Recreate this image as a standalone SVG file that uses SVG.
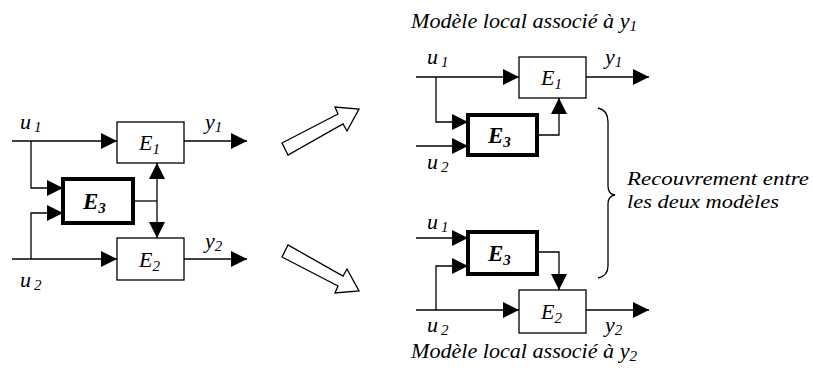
<svg xmlns="http://www.w3.org/2000/svg" width="813" height="372" viewBox="0 0 813 372">
<style>
.t{font-family:'Liberation Serif','Times New Roman',serif;font-style:italic;font-size:22px;fill:#000}
.b{font-weight:bold;font-size:23px}
.s{font-size:15px}
.r{font-size:19px}
.box{fill:#fff;stroke:#000;stroke-width:1.3}
.bx3{fill:#fff;stroke:#000;stroke-width:4}
.ln{fill:none;stroke:#000;stroke-width:1.3}
.arr{fill:none;stroke:#000;stroke-width:1.3;marker-end:url(#ah)}
.hol{fill:#fff;stroke:#000;stroke-width:1.3;stroke-linejoin:miter}
</style>
<defs>
<marker id="ah" viewBox="0 0 16 16" refX="16" refY="8" markerWidth="16" markerHeight="16" markerUnits="userSpaceOnUse" orient="auto">
<path d="M0,0 L16,8 L0,16 z" fill="#000"/>
</marker>
</defs>
<rect width="813" height="372" fill="#fff"/>

<g id="connectors">
<path class="arr" d="M12,141 L117,141"/>
<path class="arr" d="M184,141 L247,141"/>
<path class="arr" d="M31,141 L31,188 L63,188"/>
<path class="arr" d="M12,259 L117,259"/>
<path class="arr" d="M184,259 L247,259"/>
<path class="arr" d="M31,259 L31,213 L63,213"/>
<path class="ln" d="M133,201 L157,201"/>
<path class="arr" d="M157,201 L157,163"/>
<path class="arr" d="M157,201 L157,238"/>
<path class="arr" d="M416,77 L519,77"/>
<path class="arr" d="M586,77 L649,77"/>
<path class="arr" d="M436,77 L436,122 L468,122"/>
<path class="arr" d="M416,146 L468,146"/>
<path class="arr" d="M537,135 L559,135 L559,98"/>
<path class="arr" d="M416,238 L468,238"/>
<path class="arr" d="M416,310 L519,310"/>
<path class="arr" d="M436,310 L436,266 L468,266"/>
<path class="arr" d="M537,252 L559,252 L559,290"/>
<path class="arr" d="M586,310 L649,310"/>
</g>

<g id="big-arrows">
<polygon class="hol" points="282,143 338,114 335,107 359,109 347,131 343,124 288,155"/>
<polygon class="hol" points="282,257 338,286 335,293 359,291 347,269 343,276 288,245"/>
</g>

<g id="left-E1"><rect class="box" x="117" y="122" width="67" height="41"/><text class="t" x="139" y="150">E<tspan class="s" dy="4">1</tspan></text></g>
<g id="left-E2"><rect class="box" x="117" y="238" width="67" height="42"/><text class="t" x="139" y="267">E<tspan class="s" dy="4">2</tspan></text></g>
<g id="left-E3"><rect class="bx3" x="63" y="179" width="70" height="44"/><text class="t b" x="83" y="209">E<tspan class="s" dy="4">3</tspan></text></g>
<g id="left-labels">
<text class="t" x="20" y="129">u<tspan class="s" dx="3" dy="3">1</tspan></text>
<text class="t" x="205" y="129">y<tspan class="s" dy="3">1</tspan></text>
<text class="t" x="20" y="287">u<tspan class="s" dx="3" dy="3">2</tspan></text>
<text class="t" x="205" y="248">y<tspan class="s" dy="3">2</tspan></text>
</g>

<g id="rt-title"><text class="t" x="411" y="28" textLength="226" lengthAdjust="spacingAndGlyphs">Modèle local associé à y<tspan class="s" dy="3">1</tspan></text></g>
<g id="rt-E1"><rect class="box" x="519" y="57" width="67" height="41"/><text class="t" x="541" y="85">E<tspan class="s" dy="4">1</tspan></text></g>
<g id="rt-E3"><rect class="bx3" x="468" y="115" width="69" height="40"/><text class="t b" x="488" y="143">E<tspan class="s" dy="4">3</tspan></text></g>
<g id="rt-labels">
<text class="t" x="427" y="64">u<tspan class="s" dx="3" dy="3">1</tspan></text>
<text class="t" x="605" y="64">y<tspan class="s" dy="3">1</tspan></text>
<text class="t" x="427" y="169">u<tspan class="s" dx="3" dy="3">2</tspan></text>
</g>

<g id="rb-E3"><rect class="bx3" x="468" y="232" width="69" height="42"/><text class="t b" x="488" y="261">E<tspan class="s" dy="4">3</tspan></text></g>
<g id="rb-E2"><rect class="box" x="519" y="290" width="67" height="43"/><text class="t" x="541" y="319">E<tspan class="s" dy="4">2</tspan></text></g>
<g id="rb-labels">
<text class="t" x="427" y="229">u<tspan class="s" dx="3" dy="3">1</tspan></text>
<text class="t" x="427" y="332">u<tspan class="s" dx="3" dy="3">2</tspan></text>
<text class="t" x="605" y="332">y<tspan class="s" dy="3">2</tspan></text>
</g>
<g id="rb-title"><text class="t" x="411" y="358" textLength="226" lengthAdjust="spacingAndGlyphs">Modèle local associé à y<tspan class="s" dy="3">2</tspan></text></g>

<g id="brace">
<path class="ln" d="M598,108 Q608,110 608,122 L608,186 Q608,194 615,195 Q608,196 608,204 L608,266 Q608,276 598,278"/>
<text class="t r" x="627" y="185" textLength="182" lengthAdjust="spacingAndGlyphs">Recouvrement entre</text>
<text class="t r" x="627" y="208" textLength="152" lengthAdjust="spacingAndGlyphs">les deux modèles</text>
</g>
</svg>
